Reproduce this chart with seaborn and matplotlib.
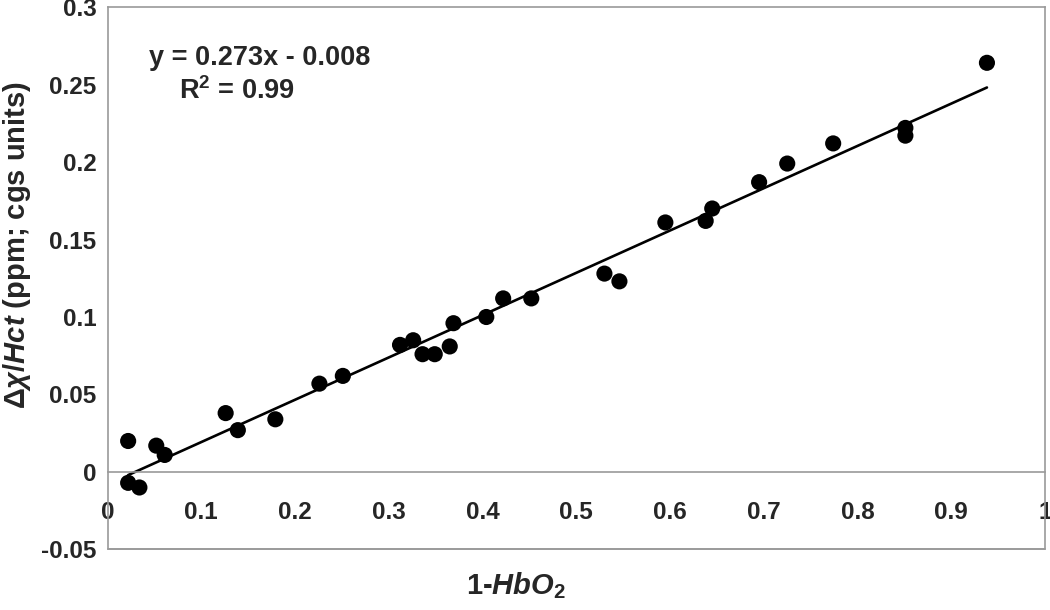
import numpy as np
import pandas as pd
import matplotlib
matplotlib.use('Agg')
import matplotlib.pyplot as plt
import seaborn as sns

# 데이터
x_vals = [0.022, 0.022, 0.034, 0.052, 0.061, 0.126, 0.139, 0.179, 0.226, 0.251,
          0.312, 0.326, 0.336, 0.349, 0.365, 0.369, 0.404, 0.422, 0.452, 0.530,
          0.546, 0.595, 0.638, 0.645, 0.695, 0.725, 0.774, 0.851, 0.851, 0.938]
y_vals = [0.020, -0.007, -0.010, 0.017, 0.011, 0.038, 0.027, 0.034, 0.057, 0.062,
          0.082, 0.085, 0.076, 0.076, 0.081, 0.096, 0.100, 0.112, 0.112, 0.128,
          0.123, 0.161, 0.162, 0.170, 0.187, 0.199, 0.212, 0.222, 0.217, 0.264]
slope = 0.273
intercept = -0.008
r_squared = 0.99
x_ticks = [0, 0.1, 0.2, 0.3, 0.4, 0.5, 0.6, 0.7, 0.8, 0.9, 1]
x_tick_labels = ['0', '0.1', '0.2', '0.3', '0.4', '0.5', '0.6', '0.7', '0.8', '0.9', '1']
y_ticks = [-0.05, 0, 0.05, 0.1, 0.15, 0.2, 0.25, 0.3]
y_tick_labels = ['-0.05', '0', '0.05', '0.1', '0.15', '0.2', '0.25', '0.3']

df = pd.DataFrame({'x': x_vals, 'y': y_vals})
fit = pd.DataFrame({'x': [min(x_vals), max(x_vals)]})
fit['y'] = slope * fit['x'] + intercept

sns.set_style('white')
plt.rcParams['font.family'] = ['Liberation Sans', 'DejaVu Sans']
plt.rcParams['font.weight'] = 'bold'
plt.rcParams['mathtext.fontset'] = 'custom'
plt.rcParams['mathtext.rm'] = 'Liberation Sans:bold'
plt.rcParams['mathtext.it'] = 'Liberation Sans:italic:bold'
plt.rcParams['mathtext.bf'] = 'Liberation Sans:bold'

fig = plt.figure(figsize=(10.5, 6.1), dpi=100)
ax = fig.add_axes([0.1024, 0.0992, 0.8929, 0.8893])

sns.scatterplot(data=df, x='x', y='y', ax=ax, color='black', s=135,
                edgecolor='none', zorder=3)
sns.lineplot(data=fit, x='x', y='y', ax=ax, color='black', linewidth=1.9, zorder=2)

ax.set_xlim(0, 1)
ax.set_ylim(-0.05, 0.3)
ax.set_xticks(x_ticks)
ax.set_xticklabels(x_tick_labels)
ax.set_yticks(y_ticks)
ax.set_yticklabels(y_tick_labels)

gray = '#9a9a9a'
for side in ['left', 'top', 'right', 'bottom']:
    ax.spines[side].set_color(gray)
    ax.spines[side].set_linewidth(1.2)
ax.spines['bottom'].set_position(('data', 0))
# 아래쪽 테두리
ax.axhline(-0.05, color=gray, linewidth=1.4, clip_on=False)

ax.tick_params(axis='x', direction='out', length=5, width=1, color=gray,
               pad=16, labelsize=17.5)
ax.tick_params(axis='y', direction='out', length=5, width=1, color=gray,
               pad=3, labelsize=17.5)

ax.set_xlabel(r'1-$\mathit{HbO}_{\mathrm{2}}$', fontsize=21, fontweight='bold')
ax.xaxis.set_label_coords(0.436, -0.038)
ax.set_ylabel(r'$\mathit{\Delta\chi/Hct}$ (ppm; cgs units)', fontsize=21,
              fontweight='bold')
ax.yaxis.set_label_coords(-0.079, 0.561)

ax.text(0.162, 0.267, f'y = {slope}x - {abs(intercept)}', fontsize=19.5,
        fontweight='bold', ha='center', va='center')
ax.text(0.138, 0.246, r'R$^{\mathrm{2}}$ = ' + f'{r_squared}', fontsize=19.5,
        fontweight='bold', ha='center', va='center')

fig.savefig('out.png', dpi=100)
